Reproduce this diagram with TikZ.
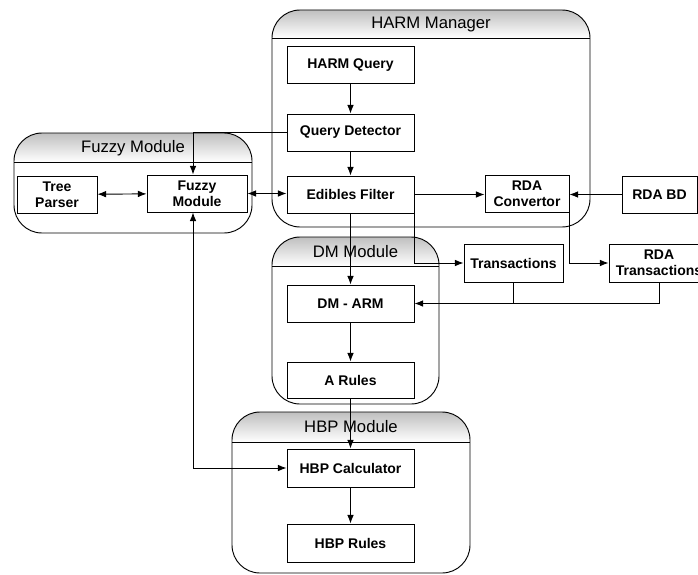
\documentclass[tikz,border=0pt]{standalone}
\usepackage{fontspec}
\setmainfont{Liberation Sans}
\usetikzlibrary{arrows.meta}

\begin{document}
\begin{tikzpicture}[x=0.75pt, y=-0.75pt, line width=0.7pt,
  box/.style={draw, fill=white, font=\fontsize{10.5}{12}\selectfont\bfseries, align=center,
    inner sep=0pt, minimum width=95.25pt, minimum height=27.75pt},
  title/.style={font=\fontsize{12.5}{14}\selectfont},
  arr/.style={-{Latex[length=6.5pt,width=5pt]}},
  darr/.style={{Latex[length=6.5pt,width=5pt]}-{Latex[length=6.5pt,width=5pt]}}]
\clip (0,0) rectangle (698,574);

% HARM Manager
\begin{scope}
\clip[rounded corners=21pt] (272,10) rectangle (590,227);
\shade[top color=black!25, bottom color=white] (272,10) rectangle (590,38);
\end{scope}
\draw[rounded corners=21pt] (272,10) rectangle (590,227);
\draw (272,38) -- (590,38);
\node[title] (harmt) at (431,24) {HARM Manager};

% Fuzzy Module
\begin{scope}
\clip[rounded corners=21pt] (14,133) rectangle (252,233);
\shade[top color=black!25, bottom color=white] (14,133) rectangle (252,162);
\end{scope}
\draw[rounded corners=21pt] (14,133) rectangle (252,233);
\draw (14,162) -- (252,162);
\node[title] (fuzzyt) at (133,148) {Fuzzy Module};

% DM Module
\begin{scope}
\clip[rounded corners=21pt] (272,237) rectangle (439,404);
\shade[top color=black!25, bottom color=white] (272,237) rectangle (439,266);
\end{scope}
\draw[rounded corners=21pt] (272,237) rectangle (439,404);
\draw (272,266) -- (439,266);
\node[title] (dmt) at (355.5,251.5) {DM Module};

% HBP Module
\begin{scope}
\clip[rounded corners=21pt] (232,412) rectangle (470,573);
\shade[top color=black!25, bottom color=white] (232,412) rectangle (470,442);
\end{scope}
\draw[rounded corners=21pt] (232,412) rectangle (470,573);
\draw (232,442) -- (470,442);
\node[title] (hbpt) at (351,427) {HBP Module};

% Boxes
\node[box] (harmq) at (350.5,65) {HARM Query};
\node[box] (qdet) at (350.5,132.5) {Query Detector};
\node[box] (efilt) at (350.5,194.5) {Edibles Filter};
\node[box, minimum width=63pt] (rdaconv) at (527,194) {RDA\\Convertor};
\node[box, minimum width=56.25pt] (rdabd) at (659.5,194.5) {RDA BD};
\node[box, minimum width=74.25pt, minimum height=28.5pt] (trans) at (513.5,263) {Transactions};
\node[box, minimum width=75pt, minimum height=28.5pt] (rdatrans) at (659,263) {RDA\\Transactions};
\node[box, minimum width=60pt] (tparse) at (57,194.5) {Tree\\Parser};
\node[box, minimum width=75pt] (fuzzy) at (197,193.5) {Fuzzy\\Module};
\node[box] (dmarm) at (350.5,303.5) {DM - ARM};
\node[box, minimum height=27pt] (arules) at (350.5,380) {A Rules};
\node[box, minimum height=28.5pt] (hbpc) at (350.5,468) {HBP Calculator};
\node[box, minimum height=28.5pt] (hbpr) at (350.5,543) {HBP Rules};
\coordinate (fz) at (193,0);

% Connectors
\draw[arr] (harmq) -- (qdet);
\draw[arr] (qdet) -- (efilt);
\draw[arr] (qdet.west) -| (fz |- fuzzy.north);
\draw[darr] (tparse) -- (fuzzy);
\draw[darr] (fuzzy) -- (fuzzy -| efilt.west);
\draw[darr] (fz |- fuzzy.south) |- (hbpc.west);
\draw[arr] (efilt.east) -- (efilt.east -| rdaconv.west);
\draw[arr] (rdabd) -- (rdabd -| rdaconv.east);
\draw[arr] (efilt) -- (dmarm);
\draw[arr] (efilt.south east) |- (trans.west);
\draw[arr] (rdaconv.south east) |- (rdatrans.west);
\draw[arr] (trans.south) |- (dmarm.east);
\draw (rdatrans.south) |- (trans.south |- dmarm.east);
\draw[arr] (dmarm) -- (arules);
\draw[arr] (arules) -- (hbpc);
\draw[arr] (hbpc) -- (hbpr);
\end{tikzpicture}
\end{document}
